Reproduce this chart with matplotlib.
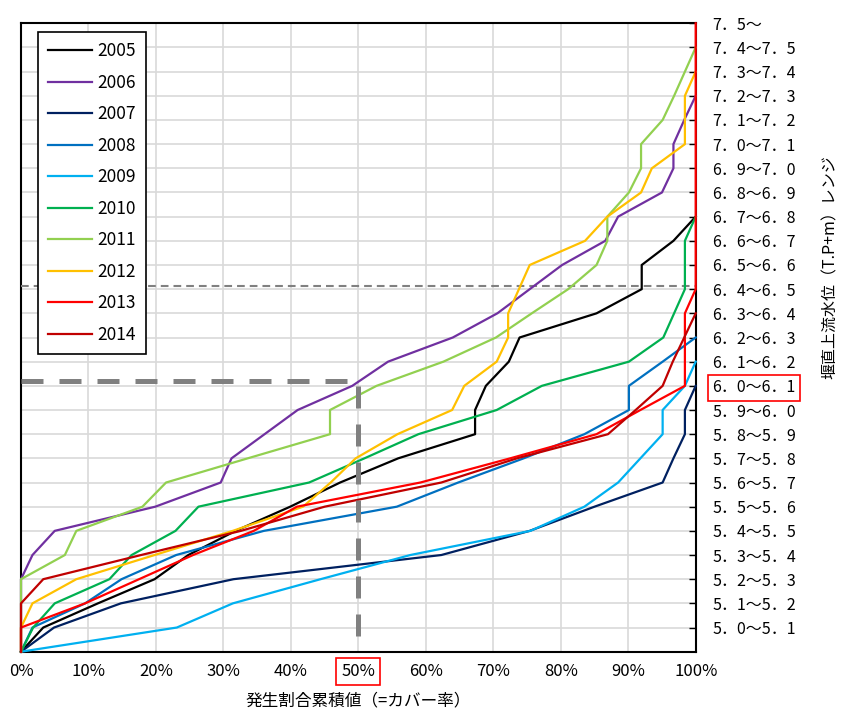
import numpy as np
import matplotlib
matplotlib.use("Agg")
import matplotlib.pyplot as plt

plt.rcParams['font.family'] = ['Noto Sans CJK JP', 'DejaVu Sans']

# ---- data ----
years = [2005, 2006, 2007, 2008, 2009, 2010, 2011, 2012, 2013, 2014]
colors = ['#000000', '#7030A0', '#002060', '#0070C0', '#00B0F0',
          '#00B050', '#92D050', '#FFC000', '#FF0000', '#C00000']

# water-level class boundaries (T.P.+m)
levels = [5.0, 5.1, 5.2, 5.3, 5.4, 5.5, 5.6, 5.7, 5.8, 5.9, 6.0, 6.1, 6.2,
          6.3, 6.4, 6.5, 6.6, 6.7, 6.8, 6.9, 7.0, 7.1, 7.2, 7.3, 7.4, 7.5, 7.6]
range_labels = ['5．0〜5．1', '5．1〜5．2', '5．2〜5．3', '5．3〜5．4', '5．4〜5．5',
                '5．5〜5．6', '5．6〜5．7', '5．7〜5．8', '5．8〜5．9', '5．9〜6．0',
                '6．0〜6．1', '6．1〜6．2', '6．2〜6．3', '6．3〜6．4', '6．4〜6．5',
                '6．5〜6．6', '6．6〜6．7', '6．7〜6．8', '6．8〜6．9', '6．9〜7．0',
                '7．0〜7．1', '7．1〜7．2', '7．2〜7．3', '7．3〜7．4', '7．4〜7．5',
                '7．5〜']
x_ticks = [0, 10, 20, 30, 40, 50, 60, 70, 80, 90, 100]
x_tick_labels = ['0%', '10%', '20%', '30%', '40%', '50%', '60%', '70%', '80%', '90%', '100%']

# cumulative occurrence ratio (%) at each level, starting at 5.0
cum_2005 = [0, 3.3, 11.4, 19.8, 24.8, 31.8, 39.9, 47.3, 55.9, 67.3, 67.3, 68.9,
            72.3, 73.9, 85.3, 92.0, 92.0, 96.7, 100]
cum_2006 = [0, 0, 0, 0, 1.7, 5.0, 19.9, 29.6, 31.2, 36.1, 41.0, 49.1, 54.4, 64.0,
            70.6, 75.4, 80.2, 86.6, 88.5, 95.0, 96.7, 96.7, 98.3, 100]
cum_2007 = [0, 4.9, 14.8, 31.5, 62.3, 75.4, 85.0, 95.1, 96.7, 98.4, 98.4, 100]
cum_2008 = [0, 1.7, 9.5, 14.9, 23.0, 36.0, 55.7, 64.8, 74.5, 83.5, 90.1, 90.1,
            95.1, 100]
cum_2009 = [0, 23.1, 31.4, 44.4, 57.7, 75.5, 83.5, 88.5, 91.8, 95.1, 95.1, 98.4, 100]
cum_2010 = [0, 1.8, 5.0, 13.1, 16.4, 22.9, 26.3, 42.7, 50.9, 58.9, 70.5, 77.2,
            90.1, 95.2, 96.8, 98.4, 98.4, 98.4, 100]
cum_2011 = [0, 0, 0, 0, 6.5, 8.2, 18.0, 21.5, 33.6, 45.8, 45.8, 52.7, 62.6, 70.4,
            75.7, 81.1, 85.3, 86.9, 86.9, 90.1, 91.9, 91.9, 95.1, 96.8, 98.4, 100]
cum_2012 = [0, 0, 1.7, 8.2, 19.8, 31.4, 41.8, 45.9, 49.6, 55.8, 63.9, 65.7, 70.5,
            72.2, 72.2, 73.8, 75.4, 83.6, 86.9, 91.9, 93.5, 98.4, 98.4, 98.4, 100]
cum_2013 = [0, 0, 9.5, 17.5, 25.5, 34.5, 40.9, 59.2, 72.5, 85.3, 91.8, 98.4, 98.4,
            98.4, 98.4, 100, 100, 100, 100, 100, 100, 100, 100, 100, 100, 100, 100]
cum_2014 = [0, 0, 0, 3.3, 17.8, 32.6, 45.0, 62.3, 73.5, 87.0, 91.1, 95.1, 96.6,
            98.3, 100]
series = [cum_2005, cum_2006, cum_2007, cum_2008, cum_2009,
          cum_2010, cum_2011, cum_2012, cum_2013, cum_2014]

# reference markers
coverage_ref = 50
level_ref = 6.12
level_line = 6.515

# ---- figure ----
fig = plt.figure(figsize=(8.41, 7.13), dpi=100)
ax = fig.add_axes([21 / 841, 1 - 651.7 / 713, (695.7 - 21) / 841, (651.7 - 23.3) / 713])

for yr, cum, col in zip(years, series, colors):
    ax.plot(cum, levels[:len(cum)], color=col, lw=1.6, label=str(yr),
            zorder=3, clip_on=False)

ax.axhline(level_line, color='#808080', lw=1.5, ls=(0, (3.7, 2.4)), zorder=2.6)
ax.plot([0, coverage_ref, coverage_ref], [level_ref, level_ref, levels[0]],
        color='#808080', lw=3.6, ls=(0, (4.4, 3.2)), zorder=4,
        solid_capstyle='butt', dash_capstyle='butt')

ax.set_xlim(0, 100)
ax.set_ylim(levels[0], levels[-1])

ax.set_xticks(x_ticks)
ax.set_xticklabels(x_tick_labels)
ax.yaxis.tick_right()
ax.set_yticks(levels[1:])
ax.set_yticklabels(range_labels)
ax.tick_params(axis='x', length=0, pad=8, labelsize=12)
ax.tick_params(axis='y', direction='in', length=5, width=1, pad=12,
               labelsize=11.5, right=True, left=False)

ax.grid(True, color='#d9d9d9', lw=1.2)
ax.set_axisbelow(True)
for s in ax.spines.values():
    s.set_linewidth(1.5)
    s.set_color('black')

# red boxes
ax.get_xticklabels()[x_ticks.index(coverage_ref)].set_bbox(
    dict(boxstyle='square,pad=0.3', fc='none', ec='red', lw=1.2))
ax.get_yticklabels()[range_labels.index('6．0〜6．1')].set_bbox(
    dict(boxstyle='square,pad=0.3', fc='none', ec='red', lw=1.2))

leg = ax.legend(loc='upper left', bbox_to_anchor=(0.025, 0.9866), frameon=True,
                fancybox=False, edgecolor='black', framealpha=1, fontsize=12.5,
                handlelength=2.5, labelspacing=0.78, borderpad=0.6,
                handletextpad=0.3, borderaxespad=0)
leg.get_frame().set_linewidth(1.2)

fig.text(358 / 841, 1 - 701 / 713, '発生割合累積値（=カバー率）',
         ha='center', va='center', fontsize=12)
fig.text(830 / 841, 1 - 267 / 713, '堰直上流水位（T.P+m）レンジ',
         rotation=90, ha='center', va='center', fontsize=11.5)

fig.savefig('out.png', dpi=100)
